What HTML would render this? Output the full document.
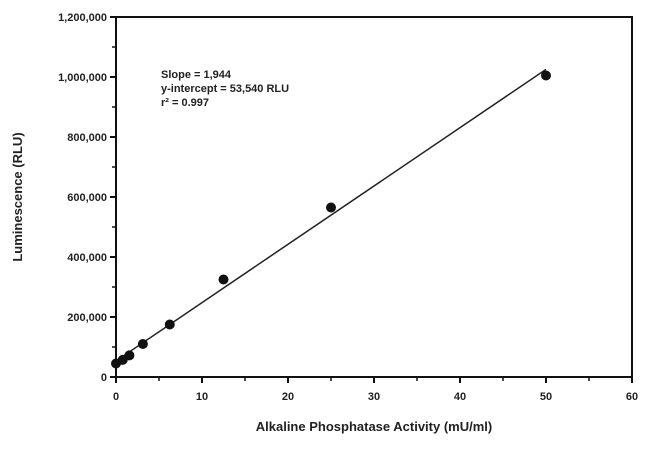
<!DOCTYPE html>
<html><head><meta charset="utf-8"><style>
body{margin:0;background:#fff;width:650px;height:452px;overflow:hidden}
text{font-family:"Liberation Sans",Arial,sans-serif;font-weight:bold;fill:#222}
</style></head><body>
<svg id="chart" width="650" height="452" xmlns="http://www.w3.org/2000/svg">
<g id="g"></g>
</svg>
<script>
const xTicks=[0,10,20,30,40,50,60];
const yTicks=[0,200000,400000,600000,800000,1000000,1200000];
const yTickLabels=["0","200,000","400,000","600,000","800,000","1,000,000","1,200,000"];
const activity=[0,0.78,1.56,3.125,6.25,12.5,25,50];
const luminescence=[45000,57000,72000,110000,175000,325000,565000,1005000];
const fitIntercept=53540;
const fitSlope=19440;
const L=116,R=632,T=17,B=377;
const sx=v=>L+(v-0)/60*(R-L);
const sy=v=>B-v/1200000*(B-T);
const g=document.getElementById('g');
const NS='http://www.w3.org/2000/svg';
function mk(tag,attrs,txt){const e=document.createElementNS(NS,tag);for(const k in attrs)e.setAttribute(k,attrs[k]);if(txt!==undefined)e.textContent=txt;g.appendChild(e);return e;}
let e=mk('rect',{x:L,y:T,width:R-L,height:B-T,fill:'none',stroke:'#111','stroke-width':2});


for(let i=0;i<yTicks.length;i++){
 const y=sy(yTicks[i]);
 e=mk('line',{x1:L-6,x2:L,y1:y,y2:y,stroke:'#111','stroke-width':2});
 
 
 e=mk('text',{x:L-9,y:y+4,'text-anchor':'end','font-size':11},yTickLabels[i]);
 
 
 if(i<yTicks.length-1){const ym=sy(yTicks[i]+100000);
 e=mk('line',{x1:L-4,x2:L,y1:ym,y2:ym,stroke:'#111','stroke-width':1.5});
 
 }
}
for(let i=0;i<xTicks.length;i++){
 const x=sx(xTicks[i]);
 e=mk('line',{x1:x,x2:x,y1:B,y2:B+6,stroke:'#111','stroke-width':2});
 
 
 e=mk('text',{x:x,y:B+23,'text-anchor':'middle','font-size':11},String(xTicks[i]));
 
 
 if(i<xTicks.length-1){const xm=sx(xTicks[i]+5);
 e=mk('line',{x1:xm,x2:xm,y1:B,y2:B+4,stroke:'#111','stroke-width':1.5});
 
 }
}
const x0=0,x1=activity[activity.length-1];
e=mk('line',{x1:sx(x0),y1:sy(fitIntercept),x2:sx(x1),y2:sy(fitIntercept+fitSlope*x1),stroke:'#222','stroke-width':1.5});


for(let i=0;i<activity.length;i++){
 e=mk('circle',{cx:sx(activity[i]),cy:sy(luminescence[i]),r:5,fill:'#111'});
 
 
}
e=mk('text',{x:374,y:431,'text-anchor':'middle','font-size':13},'Alkaline Phosphatase Activity (mU/ml)');


e=mk('text',{x:0,y:0,'text-anchor':'middle','font-size':13,transform:'translate(22,197) rotate(-90)'},'Luminescence (RLU)');


e=mk('text',{x:161,y:78,'font-size':11},'Slope = 1,944');


e=mk('text',{x:161,y:92,'font-size':11},'y-intercept = 53,540 RLU');


e=mk('text',{x:161,y:106,'font-size':11},'r² = 0.997');


</script>
</body></html>
